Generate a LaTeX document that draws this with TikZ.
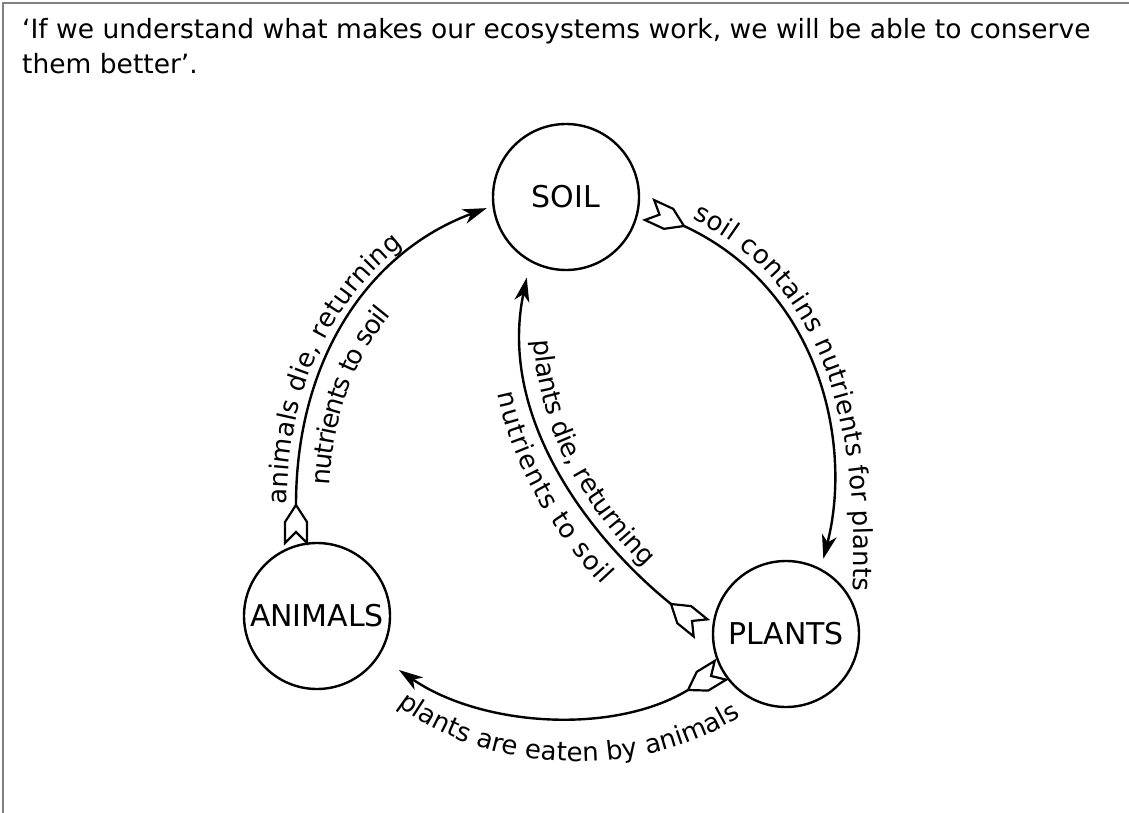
\documentclass[tikz,border=0pt]{standalone}
\usepackage{fontspec}
\setmainfont{DejaVu Sans}
\usetikzlibrary{arrows.meta,decorations.text,decorations.markings}
\newcommand\lblfont{\fontsize{26}{30}\selectfont}
\begin{document}
\begin{tikzpicture}[x=1pt,y=-1pt,
  hub/.style={circle, draw, line width=2.4pt, minimum size=146pt, inner sep=0pt, font=\fontsize{30}{34}\selectfont},
  flow/.style={line width=2.4pt, -{Stealth[length=24pt,width=15pt,inset=7pt]}},
  fletch/.style={postaction={decorate, decoration={markings, mark=at position 0 with {\draw[line width=2.2pt, fill=white, line join=miter] (0,0) -- (-17,11) -- (-38,11) -- (-27,0) -- (-38,-11) -- (-17,-11) -- cycle;}}}}
]
\useasboundingbox (0,0) rectangle (1129,813);
\draw[gray, line width=2pt] (3,813) -- (3,3) -- (1129,3);

\node[anchor=base west, align=left, inner sep=0pt, font=\fontsize{26.5}{35}\selectfont] (title) at (22,74)
  {`If we understand what makes our ecosystems work, we will be able to conserve\\them better'.};

\node[hub] (soil) at (566,197) {SOIL};
\node[hub] (animals) at (317,616) {ANIMALS};
\node[hub] (plants) at (786,634) {PLANTS};

% tails of the arrows
\coordinate (f1) at (296,505);
\coordinate (f2) at (684,226);
\coordinate (f3) at (671,604);
\coordinate (f4) at (688,690);

% arc 1: animals -> soil
\draw[flow, fletch, shorten >=6pt] (f1) .. controls (296,360) and (368,252) .. (soil.187);
% arc 2: soil -> plants
\draw[flow, fletch, shorten >=10pt] (f2) .. controls (820,289) and (853,444) .. (plants.62);
% arc 3: plants -> soil
\draw[flow, fletch, shorten >=16pt] (f3) .. controls (593,541) and (497,420) .. (soil.241);
% arc 4: plants -> animals
\draw[flow, fletch, shorten >=24pt] (f4) .. controls (614,735) and (482,727) .. (animals.-33);

% labels
\path[decorate, decoration={text along path, text={|\lblfont|animals die, returning}, text align={left indent=0pt}, raise=9pt}]
  (f1) .. controls (296,360) and (368,252) .. (soil.187);
\path[decorate, decoration={text along path, text={|\lblfont|nutrients to soil}, text align={left indent=22pt}, raise=-33pt}]
  (f1) .. controls (296,360) and (368,252) .. (soil.187);
\path[decorate, decoration={text along path, text={|\lblfont|soil contains nutrients for plants}, text align={left indent=4pt}, raise=10pt}]
  (f2) .. controls (820,289) and (865,444) .. (835,690);
\path[decorate, decoration={text along path, text={|\lblfont|plants die, returning}, text align={left indent=80pt}, raise=10pt}]
  (soil.241) .. controls (497,420) and (593,541) .. (f3) -- ++(48,38);
\path[decorate, decoration={text along path, text={|\lblfont|nutrients to soil}, text align={left indent=125pt}, raise=-33pt}]
  (soil.241) .. controls (497,420) and (593,541) .. (f3) -- ++(48,38);
\path[decorate, decoration={text along path, text={|\lblfont|plants are eaten by animals}, text align=center}]
  (362,670) .. controls (452,784) and (668,794) .. (780,686);
\end{tikzpicture}
\end{document}
